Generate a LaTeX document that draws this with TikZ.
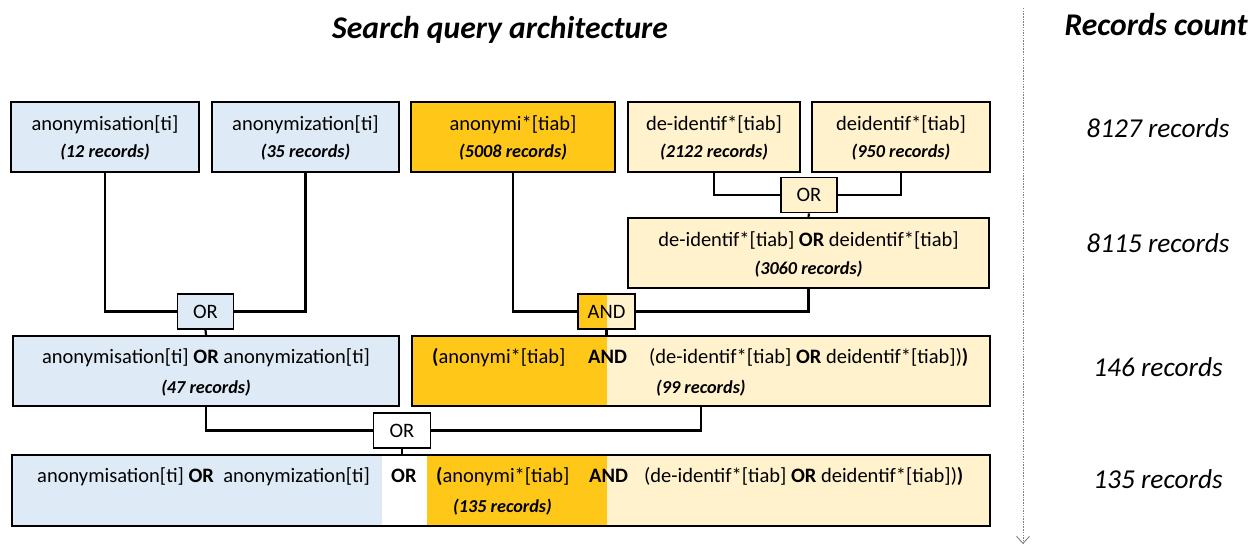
\documentclass[tikz,border=0pt]{standalone}
\usepackage{fontspec}
\setmainfont{Carlito}
\usetikzlibrary{arrows.meta}
\definecolor{lblue}{HTML}{DEEBF7}
\definecolor{gold}{HTML}{FFC819}
\definecolor{lyel}{HTML}{FFF2CC}
\begin{document}
\begin{tikzpicture}[x=1pt,y=-1pt,
 box/.style={draw=black, line width=2.3pt, inner sep=0pt},
 opbox/.style={draw=black, line width=1.8pt, minimum width=56pt, minimum height=35pt, inner sep=0pt, font=\fontsize{20.5}{20.5}\selectfont},
 conn/.style={line width=2.2pt},
 lbl/.style={font=\fontsize{20.5}{20.5}\selectfont, inner sep=0pt, anchor=base},
 cnt/.style={font=\fontsize{18.2}{18.2}\selectfont\bfseries\itshape, inner sep=0pt, anchor=base},
 side/.style={font=\fontsize{27.3}{27.3}\selectfont\itshape, inner sep=0pt, anchor=base},
 ttl/.style={font=\fontsize{31.6}{31.6}\selectfont\bfseries\itshape, inner sep=0pt, anchor=base}]
\useasboundingbox (0,0) rectangle (1260,545);
% titles
\node[ttl] (t1) at (500,39) {Search query architecture};
\node[ttl] (t2) at (1156,36) {Records count};
% dotted axis
\coordinate (axtop) at (1023,8);
\coordinate (axbot) at (1023,544);
\draw[gray, line width=0.9pt, dash pattern=on 1.5pt off 1.2pt, -{Straight Barb[length=7pt,width=13pt,line width=0.9pt]}] (axtop) -- (axbot);
% side counts
\node[side] (s1) at (1158,138) {8127 records};
\node[side] (s2) at (1158,252) {8115 records};
\node[side] (s3) at (1158,376) {146 records};
\node[side] (s4) at (1158,488) {135 records};
% row 1
\node[box, fill=lblue, minimum width=188pt, minimum height=70pt] (a1) at (105,137) {};
\node[box, fill=lblue, minimum width=187pt, minimum height=70pt] (a2) at (305.5,137) {};
\node[box, fill=gold, minimum width=204pt, minimum height=70pt] (b1) at (513,137) {};
\node[box, fill=lyel, minimum width=172pt, minimum height=70pt] (b2) at (714,137) {};
\node[box, fill=lyel, minimum width=178pt, minimum height=70pt] (b3) at (901,137) {};
\node[lbl] (a1t) at (105,131) {anonymisation[ti]};
\node[cnt] (a1c) at (105,158) {(12 records)};
\node[lbl] (a2t) at (305.5,131) {anonymization[ti]};
\node[cnt] (a2c) at (305.5,158) {(35 records)};
\node[lbl] (b1t) at (513,131) {anonymi*[tiab]};
\node[cnt] (b1c) at (513,158) {(5008 records)};
\node[lbl] (b2t) at (714,131) {de-identif*[tiab]};
\node[cnt] (b2c) at (714,158) {(2122 records)};
\node[lbl] (b3t) at (901,131) {deidentif*[tiab]};
\node[cnt] (b3c) at (901,158) {(950 records)};
% OR of de-identif
\node[opbox, fill=lyel] (or2) at (809,195) {OR};
\node[box, fill=lyel, minimum width=361pt, minimum height=70pt] (b4) at (808.5,253) {};
\node[lbl] (b4t) at (808.5,247) {de-identif*[tiab] \textbf{OR} deidentif*[tiab]};
\node[cnt] (b4c) at (808.5,274) {(3060 records)};
% OR left
\node[opbox, fill=lblue] (or1) at (205.5,311.5) {OR};
% AND
\fill[gold] (578,294) rectangle (607,329);
\fill[lyel] (607,294) rectangle (635,329);
\node[opbox, minimum width=57pt] (and) at (606.5,311.5) {AND};
% row 2
\node[box, fill=lblue, minimum width=386pt, minimum height=70pt] (c1) at (206,371) {};
\node[lbl] (c1t) at (206,363) {anonymisation[ti] \textbf{OR} anonymization[ti]};
\node[cnt] (c1c) at (206,393) {(47 records)};
\fill[gold] (412,336) rectangle (607,406);
\fill[lyel] (607,336) rectangle (990,406);
\node[box, minimum width=578pt, minimum height=70pt] (c2) at (701,371) {};
\node[lbl, anchor=base west] (c2a) at (432,363) {\textbf{(}anonymi*[tiab]};
\node[lbl, anchor=base west] (c2b) at (588,363) {\textbf{AND}};
\node[lbl, anchor=base west] (c2d) at (649,363) {(de-identif*[tiab] \textbf{OR} deidentif*[tiab])\textbf{)}};
\node[cnt, anchor=base west] (c2c) at (656,393) {(99 records)};
% OR bottom
\node[opbox, fill=white, minimum width=57pt] (or3) at (402,430.5) {OR};
% row 3
\fill[lblue] (12,455) rectangle (382,526);
\fill[white] (382,455) rectangle (427,526);
\fill[gold] (427,455) rectangle (607,526);
\fill[lyel] (607,455) rectangle (990,526);
\node[box, minimum width=978pt, minimum height=71pt] (d) at (501,490.5) {};
\node[lbl, anchor=base west] (d1) at (37,482) {anonymisation[ti] \textbf{OR}\ \ anonymization[ti]};
\node[lbl, anchor=base west] (d2) at (391,482) {\textbf{OR}};
\node[lbl, anchor=base west] (d3) at (436,482) {\textbf{(}anonymi*[tiab]};
\node[lbl, anchor=base west] (d4) at (589,482) {\textbf{AND}};
\node[lbl, anchor=base west] (d5) at (644,482) {(de-identif*[tiab] \textbf{OR} deidentif*[tiab])\textbf{)}};
\node[cnt, anchor=base west] (d6) at (453,512) {(135 records)};
% connectors
\draw[conn] (a1.south) |- (or1.west);
\draw[conn] (a2.south) |- (or1.east);
\draw[conn] (or1.south) -- (c1.north);
\draw[conn] (b2.south) |- (or2.west);
\draw[conn] (b3.south) |- (or2.east);
\draw[conn] (or2.south) -- (b4.north);
\draw[conn] (b1.south) |- (and.west);
\draw[conn] (b4.south) |- (and.east);
\draw[conn] (and.south) -- (and.south |- c2.north);
\draw[conn] (c1.south) |- (or3.west);
\draw[conn] (c2.south) |- (or3.east);
\draw[conn] (or3.south) -- (or3.south |- d.north);
\end{tikzpicture}
\end{document}
